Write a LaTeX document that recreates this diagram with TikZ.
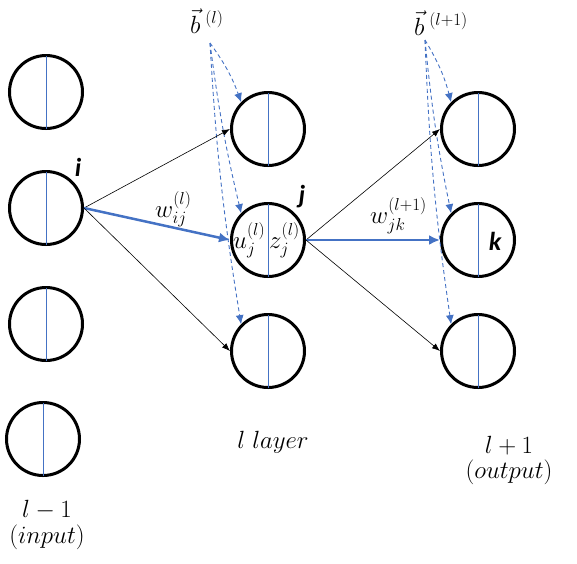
\documentclass[tikz,border=0pt]{standalone}
\usepackage{amsmath}
\usepackage{fontspec}
\newfontfamily\calfont{Carlito}
\usepackage{tikz}
\usetikzlibrary{shapes, arrows, arrows.meta, positioning, calc}
\definecolor{netblue}{HTML}{4472C4}
\DeclareMathSizes{24}{24}{19}{15}

\tikzset{
  neuron/.style={circle, draw, line width=3pt, minimum size=73pt, inner sep=0pt},
  midline/.style={netblue, line width=1pt, shorten >=1.5pt, shorten <=1.5pt},
  link/.style={-{Latex[length=8pt, width=6pt]}, line width=0.6pt},
  mainlink/.style={-{Latex[length=11pt, width=10pt]}, netblue, line width=2.5pt},
  biaslink/.style={-{Latex[length=9pt, width=8pt]}, netblue, line width=0.9pt, dash pattern=on 4pt off 3pt},
  lbl/.style={inner sep=0pt, font=\fontsize{24}{28}\selectfont},
  idx/.style={inner sep=0pt, font=\calfont\bfseries\itshape\fontsize{26}{30}\selectfont}
}

\begin{document}
\begin{tikzpicture}[x=1pt, y=-1pt]
\useasboundingbox (0,0) rectangle (577,563);

% Layer l-1 (input)
\foreach \n/\x/\y in {1/46/92, 2/46/208, 3/46/324, 4/43/439} {
    \node[neuron] (in\n) at (\x,\y) {};
    \draw[midline] (in\n.north) -- (in\n.south);
}

% Layer l
\foreach \n/\y in {1/129, 2/240, 3/351} {
    \node[neuron] (hid\n) at (268,\y) {};
    \draw[midline] (hid\n.north) -- (hid\n.south);
}

% Layer l+1 (output)
\foreach \n/\y in {1/129, 2/240, 3/351} {
    \node[neuron] (out\n) at (478,\y) {};
    \draw[midline] (out\n.north) -- (out\n.south);
}

% Indices
\node[idx] (ilbl) at (78,167) {i};
\node[idx] (jlbl) at (302,197) {j};
\node[idx] (klbl) at (495,241) {k};

% Biases
\node[lbl, anchor=base west] (bl) at (190,33) {${\vec{b}}^{\;(l)}$};
\node[lbl, anchor=base west] (bl1) at (414,35) {${\vec{b}}^{\;(l+1)}$};
\coordinate (blsrc) at (210,43);
\coordinate (bl1src) at (425,40);
\foreach \n/\b in {1/8, 2/-3, 3/-3} {
    \draw[biaslink] (blsrc) to[bend left=\b] (hid\n.135);
    \draw[biaslink] (bl1src) to[bend left=\b] (out\n.135);
}

% Weights
\draw[link] (in2.east) -- (hid1.west);
\draw[mainlink] (in2.east) -- (hid2.west);
\draw[link] (in2.east) -- (hid3.west);
\draw[link] (hid2.east) -- (out1.west);
\draw[mainlink] (hid2.east) -- (out2.west);
\draw[link] (hid2.east) -- (out3.west);
\node[lbl, anchor=base west] (wij) at (155,217) {$w_{ij}^{(l)}$};
\node[lbl, anchor=base west] (wjk) at (370,223) {$w_{jk}^{(l+1)}$};
\node[lbl, anchor=base west] (uj) at (233,248) {$u_j^{(l)}$};
\node[lbl, anchor=base west] (zj) at (269,248) {$z_j^{(l)}$};

% Layer captions
\node[lbl, anchor=base] (laylbl) at (273,448) {$l\ layer$};
\node[lbl, anchor=base] (outlbl) at (509,453) {$l+1$};
\node[lbl, anchor=base] (outtxt) at (509,478) {$(output)$};
\node[lbl, anchor=base] (inlbl) at (47,517) {$l-1$};
\node[lbl, anchor=base] (intxt) at (47,543) {$(input)$};

\end{tikzpicture}
\end{document}
